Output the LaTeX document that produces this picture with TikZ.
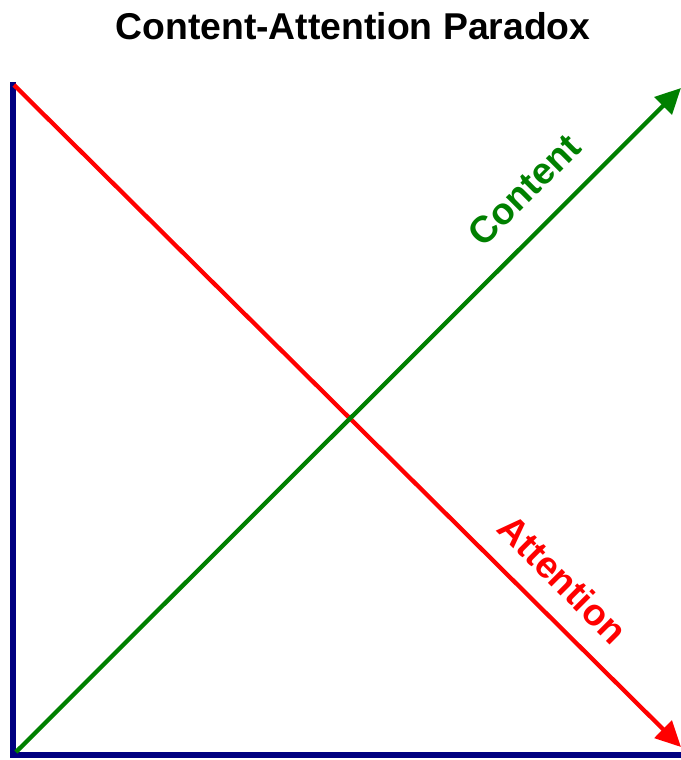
\documentclass[tikz,border=0pt]{standalone}
\usepackage{fontspec}
\setmainfont{Liberation Sans}
\usetikzlibrary{arrows.meta}
\begin{document}
\begin{tikzpicture}[x=0.75pt,y=-0.75pt,
  axis/.style={draw={rgb,255:red,0;green,0;blue,128}, line width=4.2pt, line join=miter},
  arrowline/.style={line width=3.2pt, -{Triangle[length=19pt,width=18pt]}},
  lbl/.style={font=\fontsize{28}{33}\selectfont\bfseries, inner sep=0pt}]
\useasboundingbox (0,0) rectangle (681,760);
\fill[white] (0,0) rectangle (681,760);
\node[lbl, anchor=base, text=black] (title) at (353,39) {Content-Attention Paradox};
\coordinate (top) at (13,82);
\coordinate (origin) at (13,755);
\coordinate (right) at (681,755);
\coordinate (redstart) at (14,85);
\coordinate (redend) at (681,747);
\coordinate (greenstart) at (16,752);
\coordinate (greenend) at (681,88);
\draw[axis] (top) -- (origin) -- (right);
\draw[arrowline, draw={rgb,255:red,255;green,0;blue,0}, fill={rgb,255:red,255;green,0;blue,0}] (redstart) -- (redend);
\draw[arrowline, draw={rgb,255:red,0;green,128;blue,0}, fill={rgb,255:red,0;green,128;blue,0}] (greenstart) -- (greenend);
\node[lbl, rotate=45, text={rgb,255:red,0;green,128;blue,0}] (content) at (524,190) {Content};
\node[lbl, rotate=-45, text={rgb,255:red,255;green,0;blue,0}] (attention) at (563,579) {Attention};
\end{tikzpicture}
\end{document}
